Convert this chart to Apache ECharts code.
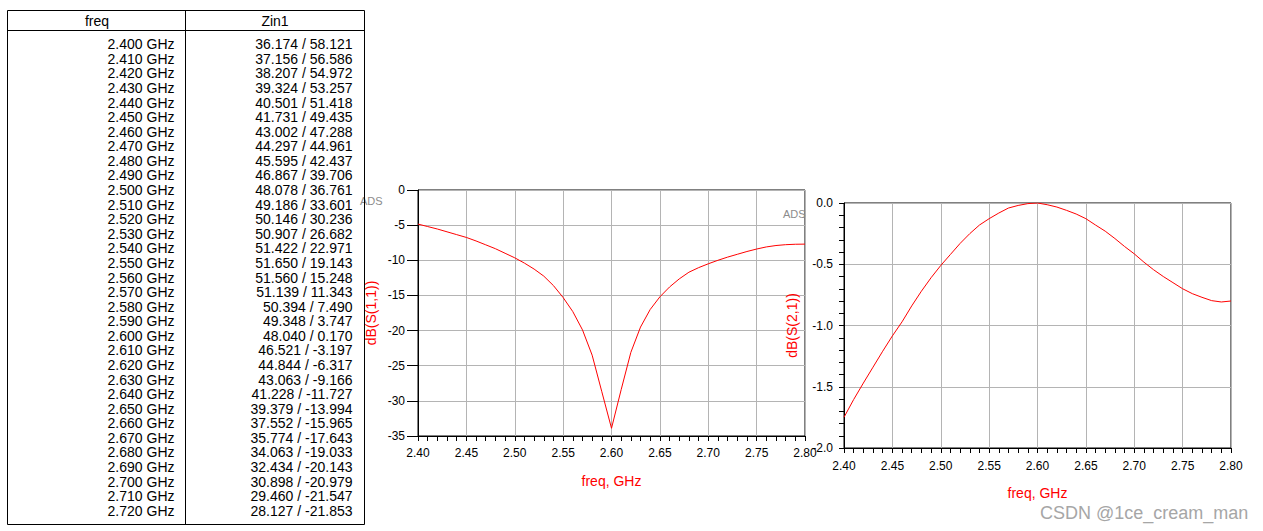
<!DOCTYPE html>
<html>
<head>
<meta charset="utf-8">
<script src="https://cdn.jsdelivr.net/npm/echarts@6/dist/echarts.min.js"></script>
<style>
html,body{margin:0;padding:0;background:#fff;}
#main{width:1263px;height:531px;}
</style>
</head>
<body>
<div id="main"></div>
<script>
// ---- data ----
const freqGHz = [2.40,2.41,2.42,2.43,2.44,2.45,2.46,2.47,2.48,2.49,2.50,2.51,2.52,2.53,2.54,2.55,2.56,2.57,2.58,2.59,2.60,2.61,2.62,2.63,2.64,2.65,2.66,2.67,2.68,2.69,2.70,2.71,2.72,2.73,2.74,2.75,2.76,2.77,2.78,2.79,2.80];
const s11dB = [-4.85,-5.2,-5.55,-5.95,-6.35,-6.75,-7.25,-7.8,-8.35,-9.0,-9.65,-10.4,-11.25,-12.25,-13.6,-15.3,-17.3,-19.9,-23.5,-28.7,-33.9,-28.4,-23.1,-19.5,-17.0,-15.2,-13.8,-12.65,-11.7,-11.05,-10.5,-10.0,-9.55,-9.15,-8.75,-8.4,-8.1,-7.9,-7.78,-7.72,-7.7];
const s21dB = [-1.749,-1.604,-1.47,-1.34,-1.21,-1.085,-0.97,-0.84,-0.72,-0.61,-0.51,-0.42,-0.33,-0.25,-0.18,-0.128,-0.082,-0.041,-0.02,-0.005,0.0,-0.014,-0.033,-0.06,-0.09,-0.128,-0.18,-0.23,-0.29,-0.355,-0.415,-0.483,-0.545,-0.60,-0.65,-0.70,-0.74,-0.77,-0.797,-0.808,-0.80];

const tableHeaders = ['freq', 'Zin1'];
const tableFreq = ['2.400 GHz','2.410 GHz','2.420 GHz','2.430 GHz','2.440 GHz','2.450 GHz','2.460 GHz','2.470 GHz','2.480 GHz','2.490 GHz','2.500 GHz','2.510 GHz','2.520 GHz','2.530 GHz','2.540 GHz','2.550 GHz','2.560 GHz','2.570 GHz','2.580 GHz','2.590 GHz','2.600 GHz','2.610 GHz','2.620 GHz','2.630 GHz','2.640 GHz','2.650 GHz','2.660 GHz','2.670 GHz','2.680 GHz','2.690 GHz','2.700 GHz','2.710 GHz','2.720 GHz'];
const tableZin = ['36.174 / 58.121','37.156 / 56.586','38.207 / 54.972','39.324 / 53.257','40.501 / 51.418','41.731 / 49.435','43.002 / 47.288','44.297 / 44.961','45.595 / 42.437','46.867 / 39.706','48.078 / 36.761','49.186 / 33.601','50.146 / 30.236','50.907 / 26.682','51.422 / 22.971','51.650 / 19.143','51.560 / 15.248','51.139 / 11.343','50.394 / 7.490','49.348 / 3.747','48.040 / 0.170','46.521 / -3.197','44.844 / -6.317','43.063 / -9.166','41.228 / -11.727','39.379 / -13.994','37.552 / -15.965','35.774 / -17.643','34.063 / -19.033','32.434 / -20.143','30.898 / -20.979','29.460 / -21.547','28.127 / -21.853'];

const xTickLabels = ['2.40','2.45','2.50','2.55','2.60','2.65','2.70','2.75','2.80'];
const y1Ticks = [0,-5,-10,-15,-20,-25,-30,-35];
const y2Ticks = [0.0,-0.5,-1.0,-1.5,-2.0];
const y1Name = 'dB(S(1,1))';
const y2Name = 'dB(S(2,1))';
const xName = 'freq, GHz';
const watermark = 'CSDN @1ce_cream_man';

// ---- chart ----
const FONT = '"Liberation Sans", Arial, sans-serif';
const chart = echarts.init(document.getElementById('main'), null, {renderer: 'svg'});

function xAxis(gridIndex, margin, nameGap) {
  return {
    type: 'value', gridIndex: gridIndex,
    min: 2.40, max: 2.80, interval: 0.05,
    name: xName, nameLocation: 'middle', nameGap: nameGap,
    nameTextStyle: {color: '#ff0000', fontSize: 14, fontFamily: FONT},
    axisLine: {show: true, onZero: false, lineStyle: {color: '#000', width: 1}},
    axisTick: {show: true, inside: false, length: 5, lineStyle: {color: '#000'}},
    minorTick: {show: true, splitNumber: 5, length: 5, lineStyle: {color: '#000'}},
    axisLabel: {color: '#000', fontSize: 12, fontFamily: FONT, margin: margin,
      formatter: v => { const s = v.toFixed(2); return xTickLabels.indexOf(s) >= 0 ? s : ''; }},
    splitLine: {show: true, lineStyle: {color: '#b4b4b4', width: 1}}
  };
}

const pairs1 = freqGHz.map((f, i) => [f, s11dB[i]]);
const pairs2 = freqGHz.map((f, i) => [f, s21dB[i]]);

const graphics = [];
// ADS labels
graphics.push({type: 'text', x: 360, y: 201, z: 5, style: {text: 'ADS', fill: '#8c8c8c', font: '11px ' + FONT, align: 'left', verticalAlign: 'middle', textAlign: 'left', textVerticalAlign: 'middle'}});
graphics.push({type: 'text', x: 783, y: 214, z: 5, style: {text: 'ADS', fill: '#8c8c8c', font: '11px ' + FONT, align: 'left', verticalAlign: 'middle', textAlign: 'left', textVerticalAlign: 'middle'}});
// table
const tL = 7.5, tT = 10.5, tR = 364.5, tB = 524.5, tH = 30.5, tC = 185.5;
graphics.push({type: 'rect', z: 11, shape: {x: tL, y: tT, width: tR - tL, height: tB - tT}, style: {fill: 'none', stroke: '#000', lineWidth: 1}});
graphics.push({type: 'line', z: 11, shape: {x1: tL, y1: tH, x2: tR, y2: tH}, style: {stroke: '#000', lineWidth: 1}});
graphics.push({type: 'line', z: 11, shape: {x1: tC, y1: tT, x2: tC, y2: tB}, style: {stroke: '#000', lineWidth: 1}});
[97, 275].forEach((cx, k) => {
  graphics.push({type: 'text', z: 12, x: cx, y: 21, style: {text: tableHeaders[k], fill: '#000', font: '14px ' + FONT, align: 'center', verticalAlign: 'middle', textAlign: 'center', textVerticalAlign: 'middle'}});
});
tableFreq.forEach((s, i) => {
  const y = 44.3 + i * 14.575;
  graphics.push({type: 'text', z: 12, x: 174.5, y: y, style: {text: s, fill: '#000', font: '14px ' + FONT, align: 'right', verticalAlign: 'middle', textAlign: 'right', textVerticalAlign: 'middle'}});
  graphics.push({type: 'text', z: 12, x: 352.5, y: y, style: {text: tableZin[i], fill: '#000', font: '14px ' + FONT, align: 'right', verticalAlign: 'middle', textAlign: 'right', textVerticalAlign: 'middle'}});
});
// watermark
graphics.push({type: 'text', z: 12, x: 1040, y: 513, style: {text: watermark, fill: '#a6a6a6', font: '18px ' + FONT, align: 'left', verticalAlign: 'middle', textAlign: 'left', textVerticalAlign: 'middle'}});

const option = {
  animation: false,
  backgroundColor: '#fff',
  textStyle: {fontFamily: FONT},
  grid: [
    {left: 418, top: 190, width: 387, height: 246, show: true, borderColor: '#000', borderWidth: 1, backgroundColor: 'transparent', containLabel: false},
    {left: 844, top: 203, width: 387, height: 245, show: true, borderColor: '#000', borderWidth: 1, backgroundColor: 'transparent', containLabel: false}
  ],
  xAxis: [xAxis(0, 11, 38), xAxis(1, 12, 38)],
  yAxis: [
    {
      type: 'value', gridIndex: 0, min: -35, max: 0, interval: 5,
      name: y1Name, nameLocation: 'middle', nameGap: 40,
      nameTextStyle: {color: '#ff0000', fontSize: 14, fontFamily: FONT},
      axisLine: {show: true, onZero: false, lineStyle: {color: '#000', width: 1}},
      axisTick: {show: true, inside: false, length: 11, lineStyle: {color: '#000'}},
      axisLabel: {color: '#000', fontSize: 12, fontFamily: FONT, margin: 13,
        formatter: v => (y1Ticks.indexOf(Math.round(v)) >= 0 ? String(Math.round(v)) : '')},
      splitLine: {show: true, lineStyle: {color: '#b4b4b4', width: 1}}
    },
    {
      type: 'value', gridIndex: 1, min: -2.0, max: 0.0, interval: 0.5,
      name: y2Name, nameLocation: 'middle', nameGap: 45,
      nameTextStyle: {color: '#ff0000', fontSize: 14, fontFamily: FONT},
      axisLine: {show: true, onZero: false, lineStyle: {color: '#000', width: 1}},
      axisTick: {show: true, inside: false, length: 5, lineStyle: {color: '#000'}},
      minorTick: {show: true, splitNumber: 5, length: 5, lineStyle: {color: '#000'}},
      axisLabel: {color: '#000', fontSize: 12, fontFamily: FONT, margin: 11,
        formatter: v => v.toFixed(1)},
      splitLine: {show: true, lineStyle: {color: '#b4b4b4', width: 1}}
    }
  ],
  series: [
    {type: 'line', xAxisIndex: 0, yAxisIndex: 0, data: pairs1, showSymbol: false, smooth: false,
      lineStyle: {color: '#ff0000', width: 1}, itemStyle: {color: '#ff0000'}, silent: true, z: 3},
    {type: 'line', xAxisIndex: 1, yAxisIndex: 1, data: pairs2, showSymbol: false, smooth: false,
      lineStyle: {color: '#ff0000', width: 1}, itemStyle: {color: '#ff0000'}, silent: true, z: 3}
  ],
  graphic: {elements: graphics}
};
chart.setOption(option);
</script>
</body>
</html>
